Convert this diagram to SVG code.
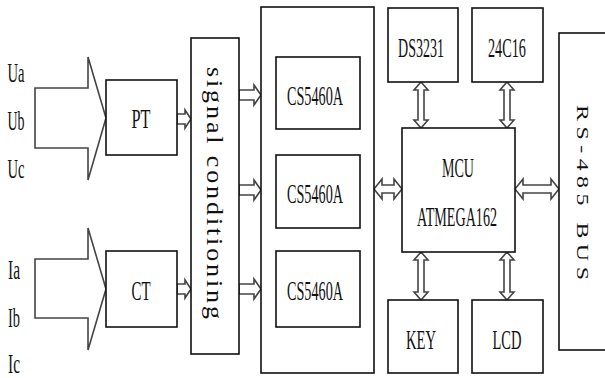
<svg xmlns="http://www.w3.org/2000/svg" width="605" height="378" viewBox="0 0 605 378">
<style>
.box{fill:#fff;stroke:#111;stroke-width:1.6}
.arr{fill:#fff;stroke:#444;stroke-width:1.6;stroke-linejoin:miter}
.t{font-family:"Liberation Serif","Times New Roman",serif;font-size:27px;fill:#111;text-anchor:middle}
.lbl{font-family:"Liberation Serif","Times New Roman",serif;font-size:27px;fill:#111;text-anchor:middle}
.vt{font-family:"Liberation Serif","Times New Roman",serif;font-size:26px;fill:#111}
</style>
<rect width="605" height="378" fill="#fff"/>
<g id="inputs-u">
<text class="lbl" x="16" y="82" textLength="17" lengthAdjust="spacingAndGlyphs">Ua</text>
<text class="lbl" x="16" y="130" textLength="17" lengthAdjust="spacingAndGlyphs">Ub</text>
<text class="lbl" x="16" y="178" textLength="17" lengthAdjust="spacingAndGlyphs">Uc</text>
</g>
<g id="inputs-i">
<text class="lbl" x="14" y="279" textLength="12" lengthAdjust="spacingAndGlyphs">Ia</text>
<text class="lbl" x="14" y="327" textLength="12" lengthAdjust="spacingAndGlyphs">Ib</text>
<text class="lbl" x="14" y="373" textLength="12" lengthAdjust="spacingAndGlyphs">Ic</text>
</g>
<g id="connectors">
<path class="arr" d="M35,88 H88 V57 L106,118 L88,180 V148 H35 Z"/>
<path class="arr" d="M35,259 H88 V228 L106,289 L88,350 V318 H35 Z"/>
<path class="arr" d="M177,114 H185 V110 L191,119 L185,128 V124 H177 Z"/>
<path class="arr" d="M177,284 H185 V280 L191,289 L185,298 V294 H177 Z"/>
<path class="arr" d="M239,90 H254 V85 L261,95 L254,105 V100 H239 Z"/>
<path class="arr" d="M239,185 H254 V180 L261,190 L254,200 V195 H239 Z"/>
<path class="arr" d="M239,284 H254 V279 L261,289 L254,299 V294 H239 Z"/>
<path class="arr" d="M374,189 L382,179 V185 H394 V179 L402,189 L394,199 V193 H382 V199 Z"/>
<path class="arr" d="M515,189 L523,179 V185 H551 V179 L559,189 L551,199 V193 H523 V199 Z"/>
<path class="arr" d="M421,82 L428,90 H424 V120 H428 L421,128 L414,120 H418 V90 H414 Z"/>
<path class="arr" d="M507,82 L514,90 H510 V120 H514 L507,128 L500,120 H504 V90 H500 Z"/>
<path class="arr" d="M421,252 L428,260 H424 V292 H428 L421,300 L414,292 H418 V260 H414 Z"/>
<path class="arr" d="M507,252 L514,260 H510 V292 H514 L507,300 L500,292 H504 V260 H500 Z"/>
</g>
<g id="pt">
<rect class="box" x="106" y="80" width="71" height="75"/>
<text class="t" x="141" y="128" textLength="19" lengthAdjust="spacingAndGlyphs">PT</text>
</g>
<g id="ct">
<rect class="box" x="106" y="251" width="71" height="76"/>
<text class="t" x="141" y="300" textLength="19" lengthAdjust="spacingAndGlyphs">CT</text>
</g>
<g id="signal-conditioning">
<rect class="box" x="191" y="38" width="48" height="316"/>
<text class="vt" transform="translate(207,67) rotate(90) scale(1,0.85)" x="0" y="0" textLength="252" lengthAdjust="spacing">signal conditioning</text>
</g>
<g id="cs-group">
<rect class="box" x="261" y="7" width="113" height="366"/>
</g>
<g id="cs1">
<rect class="box" x="276" y="57" width="84" height="72"/>
<text class="t" x="315" y="105" textLength="56" lengthAdjust="spacingAndGlyphs">CS5460A</text>
</g>
<g id="cs2">
<rect class="box" x="276" y="155" width="84" height="73"/>
<text class="t" x="315" y="203" textLength="56" lengthAdjust="spacingAndGlyphs">CS5460A</text>
</g>
<g id="cs3">
<rect class="box" x="276" y="251" width="84" height="76"/>
<text class="t" x="315" y="300" textLength="56" lengthAdjust="spacingAndGlyphs">CS5460A</text>
</g>
<g id="ds3231">
<rect class="box" x="388" y="8" width="70" height="74"/>
<text class="t" x="421" y="57" textLength="46" lengthAdjust="spacingAndGlyphs">DS3231</text>
</g>
<g id="c24c16">
<rect class="box" x="472" y="8" width="71" height="74"/>
<text class="t" x="507" y="57" textLength="38" lengthAdjust="spacingAndGlyphs">24C16</text>
</g>
<g id="mcu">
<rect class="box" x="402" y="128" width="113" height="124"/>
<text class="t" x="458" y="177" textLength="32" lengthAdjust="spacingAndGlyphs">MCU</text>
<text class="t" x="457" y="226" textLength="80" lengthAdjust="spacingAndGlyphs">ATMEGA162</text>
</g>
<g id="key">
<rect class="box" x="388" y="300" width="70" height="73"/>
<text class="t" x="421" y="349" textLength="30" lengthAdjust="spacingAndGlyphs">KEY</text>
</g>
<g id="lcd">
<rect class="box" x="472" y="300" width="71" height="73"/>
<text class="t" x="507" y="349" textLength="29" lengthAdjust="spacingAndGlyphs">LCD</text>
</g>
<g id="rs485">
<rect class="box" x="559" y="33" width="60" height="317"/>
<text class="vt" style="font-size:24px" transform="translate(577,105) rotate(90) scale(1,0.72)" x="0" y="0" textLength="175" lengthAdjust="spacing">RS-485 BUS</text>
</g>
</svg>
